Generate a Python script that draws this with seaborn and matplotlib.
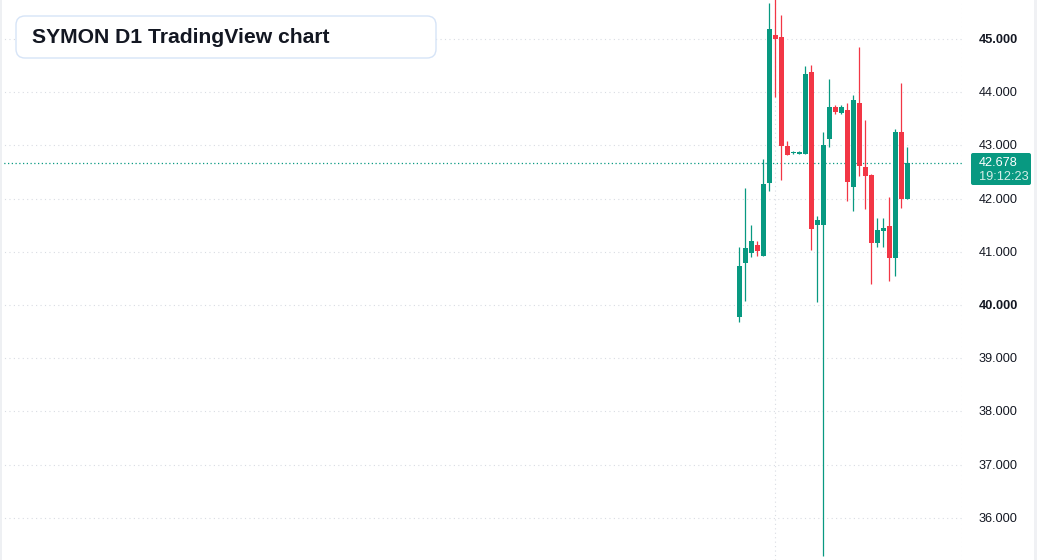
import matplotlib
matplotlib.use("Agg")
import matplotlib.pyplot as plt
import matplotlib.transforms as mtransforms
import seaborn as sns
import numpy as np
from matplotlib.patches import FancyBboxPatch, Rectangle
from matplotlib.transforms import IdentityTransform

# ---- data ----
opens  = [39.78, 40.795, 40.983, 41.122, 40.927, 42.299, 45.075, 45.038, 42.994, 42.852,
          42.844, 42.844, 44.38, 41.509, 41.509, 43.126, 43.722, 43.615, 43.665, 42.224,
          43.797, 42.594, 42.449, 41.171, 41.397, 41.485, 40.889, 43.252, 41.998]
closes = [40.733, 41.071, 41.203, 41.02, 42.274, 45.188, 45.006, 42.994, 42.825, 42.876,
          42.876, 44.342, 41.434, 41.598, 43.002, 43.722, 43.633, 43.722, 42.318, 43.853,
          42.618, 42.43, 41.171, 41.41, 41.447, 40.889, 43.252, 41.998, 42.678]
highs  = [41.09, 42.20, 41.504, 41.203, 42.739, 45.67, 45.85, 45.451, 43.083, 42.89,
          42.89, 44.492, 44.511, 41.673, 43.252, 44.248, 43.759, 43.759, 43.797, 43.947,
          44.85, 43.483, 42.468, 41.635, 41.635, 42.03, 43.308, 44.173, 42.976]
lows   = [39.686, 40.08, 40.908, 40.927, 40.92, 42.148, 43.915, 42.35, 42.825, 42.84,
          42.83, 42.844, 41.04, 40.062, 35.28, 42.976, 43.596, 43.596, 41.96, 41.773,
          42.43, 41.81, 40.4, 41.096, 41.096, 40.457, 40.55, 41.829, 41.998]
price_ticks = [36, 37, 38, 39, 40, 41, 42, 43, 44, 45]
bold_ticks = [40, 45]
last_price = 42.678
last_time = "19:12:23"
title = "SYMON D1 TradingView chart"

UP = "#089981"
DOWN = "#f23645"
GRID = "#d9dce3"

sns.set_theme(style="white")
plt.rcParams["font.family"] = ["Liberation Sans", "DejaVu Sans"]

W, H = 1037, 560
fig = plt.figure(figsize=(W / 100, H / 100), dpi=100)
fig.patch.set_facecolor("white")
plot_w = 962
ax = fig.add_axes([0, 0, plot_w / W, 1])
ax.set_facecolor("white")

idx = np.arange(len(opens))
o = np.array(opens); c = np.array(closes)
colors = [UP if cc >= oo else DOWN for oo, cc in zip(o, c)]

# x scale: index 0 at pixel 739.3, 6 px per candle
x0 = -739.3 / 6
ax.set_xlim(x0, x0 + plot_w / 6)
ax.set_ylim(35.207, 45.733)

# grid
for t in price_ticks:
    ax.axhline(t, color=GRID, lw=0.8, ls=(0, (1, 3)), zorder=0)
ax.axvline(6, color=GRID, lw=0.8, ls=(0, (1, 3)), zorder=0)
ax.axvline(x0 + plot_w / 6 - 0.05, color=GRID, lw=0.8, ls=(0, (1, 3)), zorder=0)

# wicks and bodies
ax.vlines(idx, lows, highs, colors=colors, lw=0.9, zorder=2)
bottoms = np.minimum(o, c)
heights = np.maximum(np.abs(c - o), 0.025)
ax.bar(idx, heights, bottom=bottoms, width=0.83, color=colors, linewidth=0, zorder=3)

# last price line
ax.axhline(last_price, color=UP, lw=0.9, ls=(0, (1, 2)), zorder=1)

for s in ax.spines.values():
    s.set_visible(False)
ax.set_xticks([])
ax.set_yticks([])

# right price scale labels
blend = mtransforms.blended_transform_factory(fig.transFigure, ax.transData)
off = mtransforms.ScaledTranslation(0, -1 / 100, fig.dpi_scale_trans)
for t in price_ticks:
    fig.text(979 / W, t, f"{t:.3f}", transform=blend + off, ha="left", va="center", fontsize=9.2,
             fontweight="bold" if t in bold_ticks else "normal", color="#131722")

# price tag
fig.patches.append(FancyBboxPatch((971, H - 185), 60, 32, boxstyle="round,pad=0,rounding_size=2",
                                  transform=IdentityTransform(), facecolor=UP, edgecolor="none"))
fig.text(979 / W, 1 - 163 / H, f"{last_price:.3f}", ha="left", va="center", fontsize=9.2, color="white")
fig.text(979 / W, 1 - 177.5 / H, last_time, ha="left", va="center", fontsize=9.2, color="#d5efe9")

# edges
fig.patches.append(Rectangle((0, 0), 2, H, transform=IdentityTransform(), facecolor="#eef0f3", edgecolor="none"))
fig.patches.append(Rectangle((1034, 0), 3, H, transform=IdentityTransform(), facecolor="#f0f1f4", edgecolor="none"))

# title box
fig.patches.append(FancyBboxPatch((16, H - 58), 420, 42, boxstyle="round,pad=0,rounding_size=9",
                                  transform=IdentityTransform(), facecolor="white",
                                  edgecolor="#d6e4f7", linewidth=1.0, zorder=5))
fig.text(32 / W, 1 - 37.5 / H, title, ha="left", va="center", fontsize=15.2,
         fontweight="bold", color="#131722", zorder=6)

fig.savefig("out.png", dpi=100)
